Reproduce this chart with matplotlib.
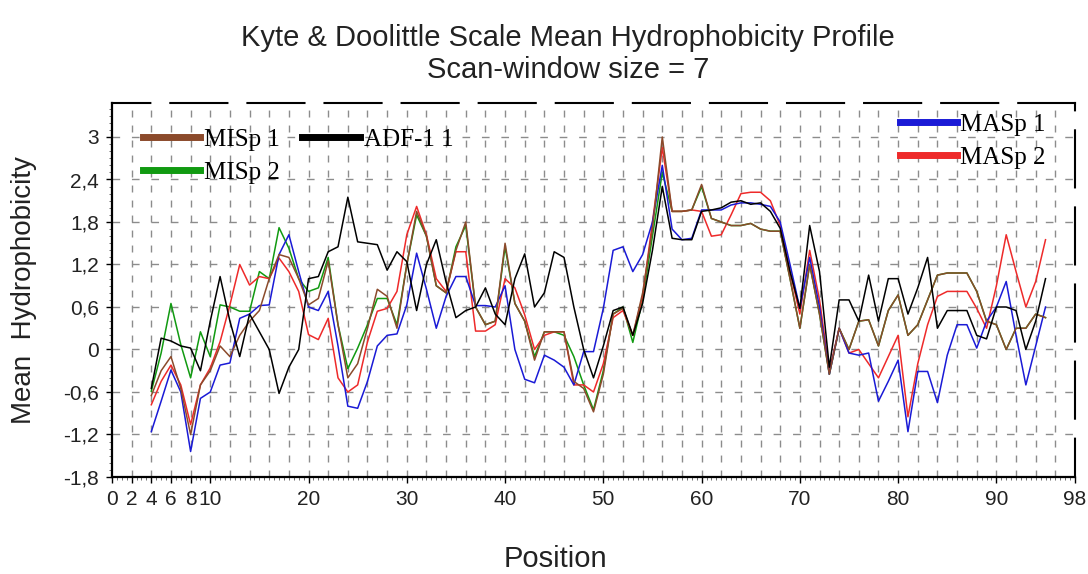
import numpy as np
import matplotlib
matplotlib.use("Agg")
import matplotlib.pyplot as plt
from matplotlib.lines import Line2D
from matplotlib.ticker import MultipleLocator, FixedLocator, FuncFormatter

# window centre positions (scan window = 7)
positions = list(range(4, 96))

adf1 = [-0.55, 0.16, 0.12, 0.05, 0.02, -0.3, 0.4, 1.03, 0.4, -0.1,
        0.5, 0.25, 0.0, -0.62, -0.25, 0.0, 1.0, 1.03, 1.38, 1.45,
        2.15, 1.52, 1.5, 1.48, 1.12, 1.38, 1.24, 0.55, 1.2, 1.55,
        0.95, 0.45, 0.55, 0.6, 0.87, 0.5, 0.35, 1.0, 1.35, 0.6,
        0.8, 1.38, 1.3, 0.6, 0.0, -0.4, 0.05, 0.55, 0.6, 0.2,
        0.65, 1.4, 2.3, 1.57, 1.55, 1.55, 1.95, 1.97, 2.0, 2.08,
        2.1, 2.05, 2.07, 1.95, 1.71, 1.1, 0.58, 1.75, 1.1, -0.25,
        0.7, 0.7, 0.4, 1.05, 0.4, 1.0, 1.0, 0.5, 0.87, 1.3,
        0.3, 0.55, 0.55, 0.55, 0.2, 0.15, 0.6, 0.6, 0.55, 0.0,
        0.4, 1.0]

misp1 = [-0.65, -0.3, -0.1, -0.55, -1.2, -0.5, -0.3, 0.05, -0.1, 0.2,
         0.4, 0.55, 1.0, 1.34, 1.3, 1.0, 0.63, 0.72, 1.25, 0.35,
         -0.4, -0.2, 0.3, 0.85, 0.75, 0.3, 1.2, 1.95, 1.6, 0.9,
         0.8, 1.4, 1.8, 0.6, 0.35, 0.4, 1.5, 0.65, 0.4, -0.15,
         0.25, 0.25, 0.25, -0.45, -0.55, -0.88, -0.35, 0.5, 0.58, 0.2,
         0.8, 1.7, 3.0, 1.95, 1.95, 1.97, 2.33, 1.85, 1.8, 1.75,
         1.75, 1.78, 1.7, 1.67, 1.67, 1.0, 0.3, 1.2, 0.5, -0.35,
         0.3, 0.0, 0.4, 0.42, 0.05, 0.55, 0.77, 0.2, 0.35, 0.7,
         1.05, 1.08, 1.08, 1.08, 0.82, 0.4, 0.35, 0.0, 0.3, 0.3,
         0.5, 0.45]

misp2 = [-0.59, -0.05, 0.65, 0.07, -0.4, 0.25, -0.1, 0.63, 0.6, 0.54,
         0.54, 1.1, 1.0, 1.72, 1.43, 1.0, 0.82, 0.87, 1.3, 0.35,
         -0.27, 0.02, 0.35, 0.72, 0.72, 0.35, 1.2, 1.9, 1.6, 0.9,
         0.8, 1.45, 1.75, 0.6, 0.35, 0.4, 1.45, 0.65, 0.4, -0.1,
         0.25, 0.25, 0.2, -0.1, -0.5, -0.85, -0.3, 0.5, 0.6, 0.1,
         0.7, 1.6, 2.5, 1.95, 1.95, 1.97, 2.3, 1.85, 1.8, 1.75,
         1.75, 1.78, 1.7, 1.67, 1.67, 1.0, 0.3, 1.2, 0.5, -0.35,
         0.3, 0.0, 0.4, 0.42, 0.05, 0.55, 0.77, 0.2, 0.35, 0.7,
         1.05, 1.08, 1.08, 1.08, 0.82, 0.4, 0.35, 0.0, 0.3, 0.3,
         0.5, 0.45]

masp1 = [-1.16, -0.73, -0.29, -0.6, -1.44, -0.69, -0.6, -0.22, -0.19, 0.44,
         0.5, 0.62, 0.63, 1.34, 1.62, 1.1, 0.6, 0.55, 0.82, 0.05,
         -0.8, -0.83, -0.45, 0.05, 0.2, 0.22, 0.63, 1.36, 0.85, 0.3,
         0.75, 1.03, 1.03, 0.62, 0.62, 0.6, 0.9, 0.0, -0.42, -0.47,
         -0.08, -0.15, -0.25, -0.5, -0.03, -0.03, 0.58, 1.4, 1.45, 1.1,
         1.34, 1.8, 2.6, 1.7, 1.55, 1.57, 1.97, 1.97, 1.97, 2.04,
         2.07, 2.07, 2.05, 2.02, 1.8, 1.2, 0.58, 1.3, 0.6, -0.35,
         0.3, -0.05, -0.08, -0.05, -0.73, -0.45, -0.15, -1.16, -0.31, -0.31,
         -0.75, -0.08, 0.35, 0.35, 0.02, 0.4, 0.6, 0.96, 0.2, -0.5,
         0.05, 0.6]

masp2 = [-0.78, -0.45, -0.22, -0.5, -1.06, -0.5, -0.26, 0.11, 0.63, 1.2,
         0.91, 1.03, 1.0, 1.29, 1.1, 0.82, 0.21, 0.14, 0.44, -0.4,
         -0.6, -0.5, 0.11, 0.54, 0.58, 0.82, 1.62, 2.02, 1.62, 1.0,
         0.82, 1.38, 1.38, 0.26, 0.26, 0.35, 1.0, 0.87, 0.49, 0.0,
         0.2, 0.25, 0.25, -0.5, -0.5, -0.6, -0.2, 0.45, 0.55, 0.2,
         0.75, 1.8, 2.85, 1.95, 1.95, 1.97, 1.95, 1.6, 1.62, 1.9,
         2.2, 2.22, 2.22, 2.1, 1.75, 1.1, 0.5, 1.4, 0.7, -0.3,
         0.3, -0.05, 0.0, -0.2, -0.4, -0.1, 0.2, -0.95, -0.2, 0.35,
         0.75, 0.82, 0.82, 0.82, 0.58, 0.3, 0.9, 1.62, 1.1, 0.6,
         0.96, 1.55]

x_ticks = [0, 2, 4, 6, 8, 10, 20, 30, 40, 50, 60, 70, 80, 90, 98]
y_ticks = [-1.8, -1.2, -0.6, 0, 0.6, 1.2, 1.8, 2.4, 3]

c_misp1 = "#8b4a2b"
c_misp2 = "#119a11"
c_adf = "#000000"
c_masp1 = "#1a1ad6"
c_masp2 = "#ee2a2a"

fig = plt.figure(figsize=(10.88, 5.74), dpi=100)
ax = fig.add_axes([112 / 1088, 1 - 477 / 574, 963 / 1088, 374 / 574])
ax.set_xlim(0, 98)
ax.set_ylim(-1.8, 3.48)

# dashed grid: vertical every 2 residues, horizontal at each y tick
for gx in range(2, 98, 2):
    ax.axvline(gx, color="#8c8c8c", lw=1.0, ls=(0, (5, 5.8)), zorder=0)
for gy in y_ticks[1:]:
    ax.axhline(gy, color="#8c8c8c", lw=1.0, ls=(0, (5.5, 8.5)), zorder=0)

ax.plot(positions, misp2, color=c_misp2, lw=1.1, zorder=2)
ax.plot(positions, masp2, color=c_masp2, lw=1.1, zorder=3)
ax.plot(positions, masp1, color=c_masp1, lw=1.1, zorder=4)
ax.plot(positions, misp1, color=c_misp1, lw=1.1, zorder=5)
ax.plot(positions, adf1, color=c_adf, lw=1.1, zorder=6)

# axes frame: solid left/bottom, long dashes top/right
for side in ["left", "bottom"]:
    ax.spines[side].set_linewidth(1.6)
    ax.spines[side].set_color("black")
for side in ["top", "right"]:
    ax.spines[side].set_linewidth(1.5)
    ax.spines[side].set_linestyle((9, (27.4, 9.6)))
    ax.spines[side].set_color("black")

ax.xaxis.set_major_locator(FixedLocator(x_ticks))
ax.xaxis.set_minor_locator(MultipleLocator(0.5))
ax.yaxis.set_major_locator(FixedLocator(y_ticks))
ax.yaxis.set_minor_locator(MultipleLocator(0.1))
ax.yaxis.set_major_formatter(FuncFormatter(lambda v, p: "0" if abs(v) < 1e-9 else ("%g" % v).replace(".", ",")))
ax.tick_params(axis="both", which="major", direction="out", length=4.5, width=1,
               labelsize=15, labelcolor="#222222", pad=5)
ax.tick_params(axis="both", which="minor", direction="out", length=2, width=0.6, color="#555555")
for lab in ax.get_xticklabels() + ax.get_yticklabels():
    lab.set_fontfamily("Liberation Sans")

ax.set_xlabel("Position", fontsize=21, family="Liberation Sans", color="#222222")
ax.xaxis.set_label_coords(0.46, -0.182)
ax.set_ylabel("Mean  Hydrophobicity", fontsize=20, family="Liberation Sans", color="#222222")
ax.yaxis.set_label_coords(-0.078, 0.5)

fig.text(568 / 1088, 1 - 38 / 574, "Kyte & Doolittle Scale Mean Hydrophobicity Profile",
         ha="center", va="center", fontsize=21, family="Liberation Sans", color="#222222")
fig.text(568 / 1088, 1 - 70 / 574, "Scan-window size = 7",
         ha="center", va="center", fontsize=21, family="Liberation Sans", color="#222222")

left_handles = [Line2D([], [], color=c_misp1, lw=5),
                Line2D([], [], color=c_misp2, lw=5),
                Line2D([], [], color=c_adf, lw=5)]
leg1 = ax.legend(left_handles, ["MISp 1", "MISp 2", "ADF-1 1"], ncol=2,
                 loc="upper left", bbox_to_anchor=(0.019, 0.965), frameon=False,
                 borderpad=0, handlelength=2.3, handletextpad=0.15,
                 labelspacing=0.42, columnspacing=0.9,
                 prop={"family": "Liberation Serif", "size": 18})
ax.add_artist(leg1)

right_handles = [Line2D([], [], color=c_masp1, lw=5),
                 Line2D([], [], color=c_masp2, lw=5)]
ax.legend(right_handles, ["MASp 1", "MASp 2"], loc="upper right",
          bbox_to_anchor=(0.982, 1.005), frameon=False, borderpad=0,
          handlelength=2.3, handletextpad=0.1, labelspacing=0.42,
          prop={"family": "Liberation Serif", "size": 18})

fig.savefig("out.png", dpi=100)
